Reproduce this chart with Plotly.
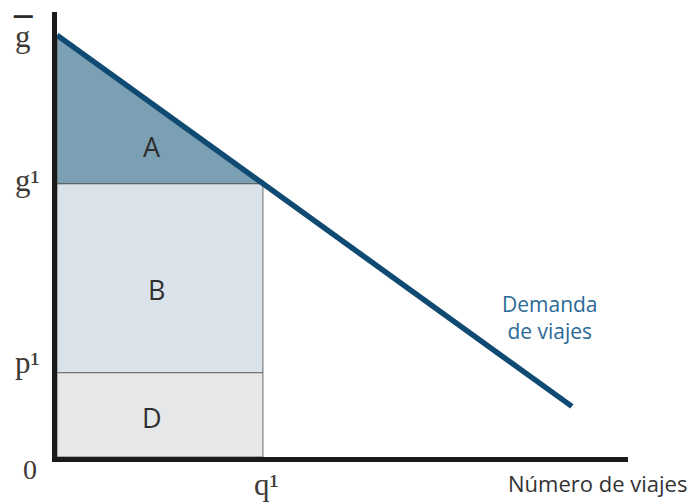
import plotly.graph_objects as go

# Values (arbitrary units)
g_bar = 10.0        # intercept of demand on price axis
g1 = 6.48           # generalized cost level
p1 = 2.0            # price level
q1 = 4.0            # trips at g1
demand_x = [0.0, 10.0]
demand_y = [10.0, 1.2]

area_labels = ["A", "B", "D"]
area_x = [1.845, 1.94, 1.845]
area_y = [7.37, 3.96, 0.925]

X_MAX = 11.09
Y_MAX = 10.55

W, H = 697, 502
ML, MR, MT, MB = 57, 69, 12, 45
PLOT_W = W - ML - MR
PLOT_H = H - MT - MB


def paper_x(px):
    # window pixel -> paper coordinate
    return (px - ML) / PLOT_W


def paper_y(py):
    return (MT + PLOT_H - py) / PLOT_H


def label(px, py, text, font):
    fig.add_annotation(xref="paper", yref="paper", x=paper_x(px), y=paper_y(py),
                       xanchor="center", yanchor="middle",
                       text=text, showarrow=False, font=font)


fig = go.Figure()

# D rectangle
fig.add_trace(go.Scatter(
    x=[0, q1, q1, 0, 0], y=[0, 0, p1, p1, 0],
    mode="lines", fill="toself", fillcolor="#e6e7e8",
    line=dict(color="#6b6b6b", width=1), hoverinfo="skip"
))
# B rectangle
fig.add_trace(go.Scatter(
    x=[0, q1, q1, 0, 0], y=[p1, p1, g1, g1, p1],
    mode="lines", fill="toself", fillcolor="#dbe3ea",
    line=dict(color="#6b6b6b", width=1), hoverinfo="skip"
))
# A triangle
fig.add_trace(go.Scatter(
    x=[0, q1, 0, 0], y=[g1, g1, g_bar, g1],
    mode="lines", fill="toself", fillcolor="#7ba0b4",
    line=dict(color="#5a5a5a", width=1), hoverinfo="skip"
))
# demand curve
fig.add_trace(go.Scatter(
    x=demand_x, y=demand_y, mode="lines",
    line=dict(color="#0f4a72", width=5.5), hoverinfo="skip"
))

serif = dict(family="Liberation Serif, serif", size=31, color="#403a36")

# axis labels (serif letters)
label(23, 36, "g", serif)
label(23, 14, "<b>–</b>", dict(family="Liberation Serif, serif", size=37, color="#2a2a2a"))
label(27, 181, "g¹", serif)
label(27, 362, "p¹", serif)
label(30, 469, "0", dict(family="Liberation Serif, serif", size=28, color="#403a36"))
label(266, 484, "q¹", serif)

# area letters
for lab, ax, ay in zip(area_labels, area_x, area_y):
    fig.add_annotation(x=ax, y=ay, text=lab, showarrow=False,
                       font=dict(family="Open Sans, sans-serif", size=27, color="#2f2f2f"))

fig.add_annotation(x=9.575, y=3.30, text="Demanda<br>de viajes", showarrow=False,
                   font=dict(family="Open Sans, sans-serif", size=21, color="#2b6a96"))
label(597, 483, "Número de viajes",
      dict(family="Open Sans, sans-serif", size=22, color="#333333"))

fig.update_layout(
    width=W, height=H,
    margin=dict(l=ML, r=MR, t=MT, b=MB),
    plot_bgcolor="white", paper_bgcolor="white",
    showlegend=False,
    xaxis=dict(range=[0, X_MAX], showgrid=False, zeroline=False, showticklabels=False,
               ticks="", showline=True, linecolor="#1a1a1a", linewidth=5, fixedrange=True),
    yaxis=dict(range=[0, Y_MAX], showgrid=False, zeroline=False, showticklabels=False,
               ticks="", showline=True, linecolor="#1a1a1a", linewidth=5, fixedrange=True),
)

# drop the default body margin so the figure fills the window exactly
fig.write_html("out.html", config={"displayModeBar": False},
               post_script="document.body.style.margin='0px';document.body.style.overflow='hidden';")
